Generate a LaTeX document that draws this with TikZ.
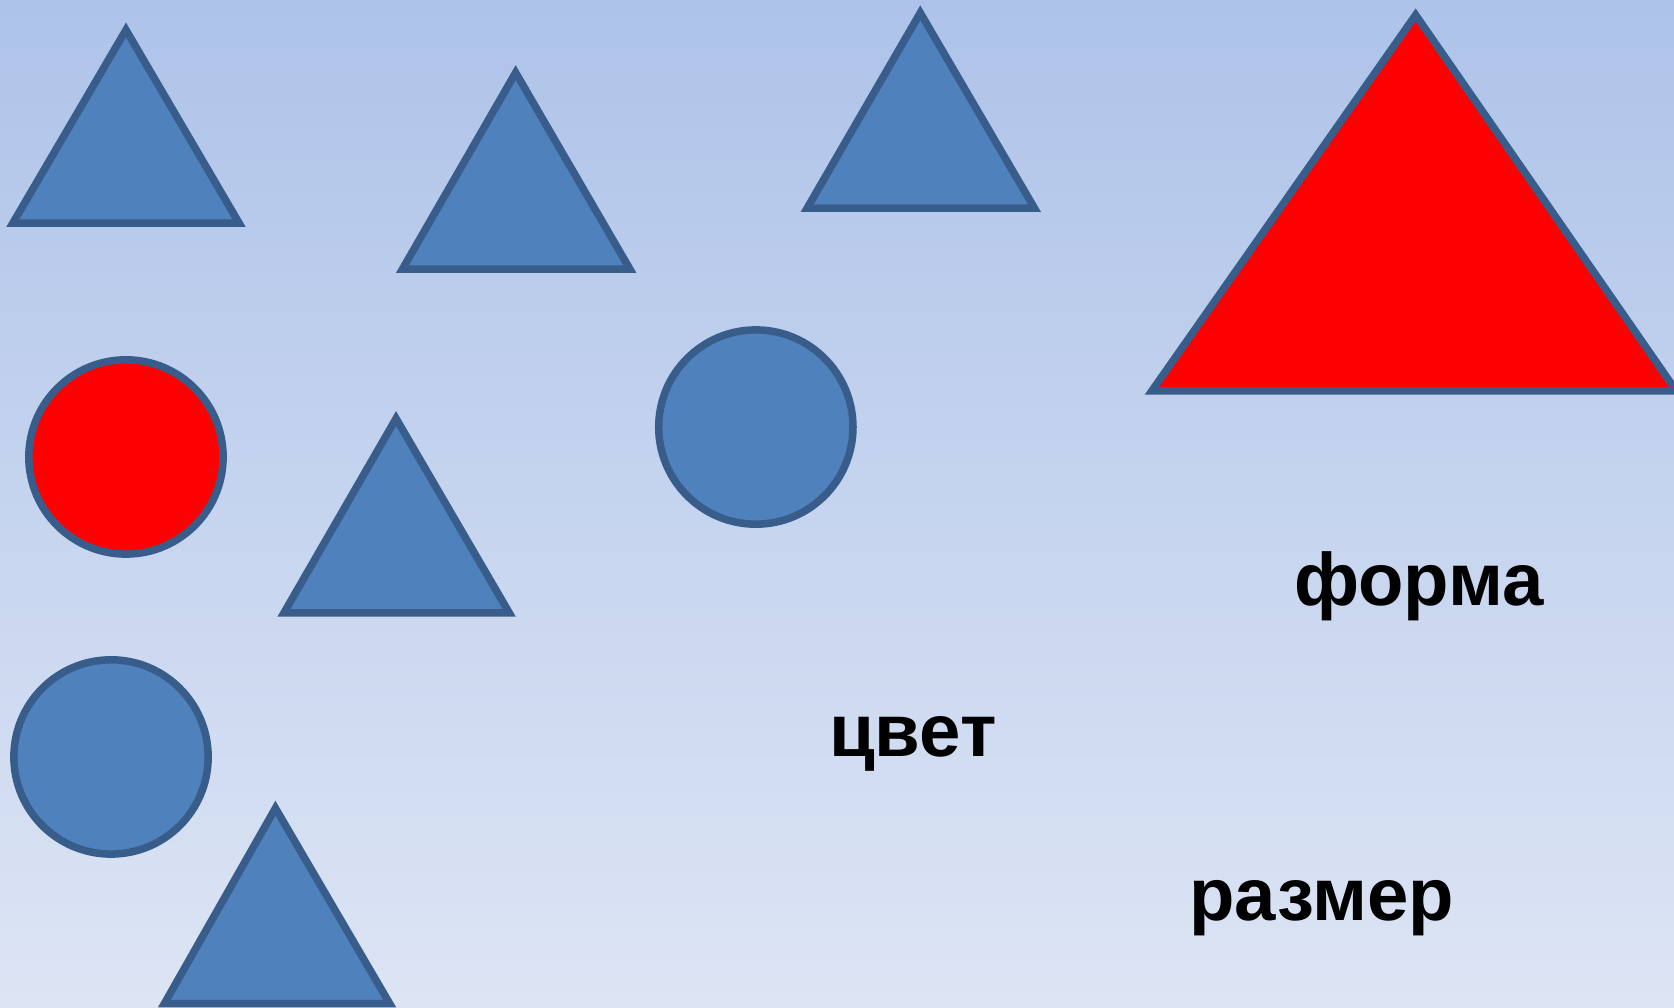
\documentclass[tikz,border=0pt]{standalone}
\usepackage{fontspec}
\setmainfont{Liberation Sans}
\definecolor{shapeblue}{RGB}{79,129,189}
\definecolor{shapeline}{RGB}{56,93,138}
\definecolor{bgtop}{RGB}{174,195,233}
\definecolor{bgbottom}{RGB}{221,229,244}
\tikzset{
	figure/.style={draw=shapeline,line width=2pt,line join=miter},
	bluefig/.style={figure,fill=shapeblue},
	redfig/.style={figure,fill=red},
	word/.style={font=\fontsize{19.8}{24}\selectfont\bfseries,inner sep=0pt,anchor=base}
}
\begin{document}
\begin{tikzpicture}[x=0.01cm,y=-0.01cm]
		\useasboundingbox (0,0) rectangle (1568,944);
		\clip (0,0) rectangle (1568,944);
		\shade[top color=bgtop,bottom color=bgbottom] (0,0) rectangle (1568,944);
		\draw[bluefig] (118,28)--(224,209)--(12,209)--cycle;
		\draw[bluefig] (483,68)--(590,252)--(377,252)--cycle;
		\draw[bluefig] (862,12)--(969,195)--(756,195)--cycle;
		\draw[redfig] (1326,14)--(1570,366)--(1079,366)--cycle;
		\filldraw[redfig] (118,428) circle (91);
		\filldraw[bluefig] (708,400) circle (91);
		\draw[bluefig] (371,392)--(477,574)--(266,574)--cycle;
		\filldraw[bluefig] (104,709) circle (91);
		\draw[bluefig] (258,757)--(365,940)--(154,940)--cycle;
		\node[word] (forma) at (1329,567) {форма};
		\node[word] (cvet) at (855,709) {цвет};
		\node[word] (razmer) at (1238,862) {размер};
		\end{tikzpicture}
\end{document}
